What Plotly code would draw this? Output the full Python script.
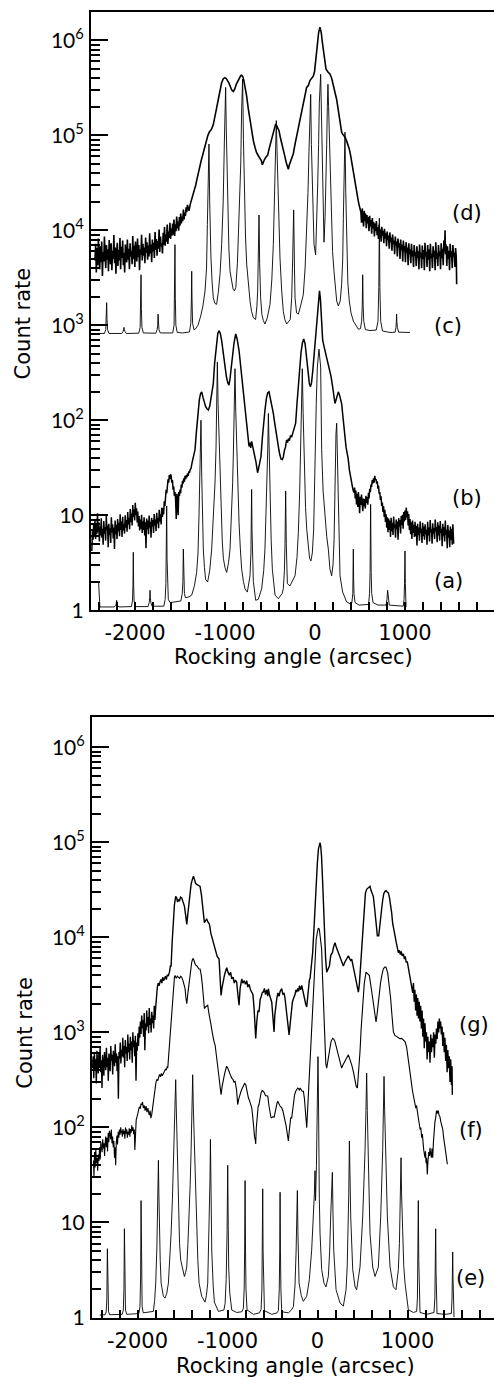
import plotly.graph_objects as go

# ---------------- DATA (rocking angle in arcsec, count rate) ----------------
# Top panel, curve (d): measured
d_pts = [(-2445,4800),(-2437,7200),(-2430,3600),(-2422,6500),(-2415,4300),(-2407,8200),(-2400,5000),(-2392,3900),
(-2385,6800),(-2377,4600),(-2370,7600),(-2362,3300),(-2355,5900),(-2347,4700),(-2340,8600),(-2332,5200),(-2325,4000),
(-2317,7000),(-2310,4900),(-2302,6300),(-2295,3700),(-2287,7900),(-2280,5300),(-2272,4400),(-2265,7300),(-2257,3800),
(-2250,6100),(-2242,5000),(-2235,8900),(-2227,4500),(-2220,6600),(-2212,3500),(-2205,5700),(-2197,7400),(-2190,4200),
(-2182,6200),(-2175,4800),(-2167,8300),(-2160,3900),(-2152,6700),(-2145,5100),(-2137,7800),(-2130,4300),(-2122,5800),
(-2115,3600),(-2107,7100),(-2100,5400),(-2092,4600),(-2085,8000),(-2077,4900),(-2070,6400),(-2062,3900),(-2055,7300),
(-2047,5300),(-2040,6100),(-2032,4400),(-2025,8700),(-2017,5000),(-2010,6900),(-2002,4100),(-1995,7600),(-1987,5600),
(-1980,4700),(-1972,8200),(-1965,5200),(-1957,7000),(-1950,3800),(-1942,6300),(-1935,5500),(-1927,9000),(-1920,4800),
(-1912,7200),(-1905,5400),(-1897,6600),(-1890,4500),(-1882,8400),(-1875,5800),(-1867,7500),(-1860,4900),(-1852,6900),
(-1845,5300),(-1837,9300),(-1830,5700),(-1822,7100),(-1815,4600),(-1807,8000),(-1800,6000),(-1792,7400),(-1785,5100),
(-1777,9600),(-1770,6200),(-1762,8100),(-1755,5400),(-1747,7700),(-1740,6400),(-1732,10200),(-1725,5900),(-1717,8600),
(-1710,6800),(-1702,7300),(-1695,5700),(-1687,9400),(-1680,7000),(-1672,10800),(-1665,6900),(-1657,9000),(-1650,7600),
(-1642,11500),(-1635,7200),(-1627,9700),(-1620,8300),(-1612,12000),(-1605,8100),(-1597,10500),(-1590,8800),(-1582,11800),
(-1575,9000),(-1567,13000),(-1560,8700),(-1552,11600),(-1545,9800),(-1537,14000),(-1530,10500),(-1522,12400),(-1515,9900),
(-1507,13800),(-1500,11200),(-1492,15000),(-1485,11800),(-1477,13900),(-1470,12500),(-1462,16500),(-1455,13000),
(-1447,15400),(-1440,14200),(-1432,17500),(-1425,15500),(-1417,18500),(-1410,17000),
(-1400,16000),(-1385,19000),(-1370,21000),(-1355,24000),(-1340,26000),(-1325,30000),(-1310,35000),(-1296,41000),
(-1280,48000),(-1265,54000),(-1250,61000),(-1235,70000),(-1222,78000),(-1205,91000),(-1190,100000),(-1175,108000),
(-1160,113000),(-1148,117000),(-1130,130000),(-1111,155000),(-1095,190000),(-1074,240000),(-1055,300000),(-1037,360000),
(-1018,395000),(-1000,405000),(-985,395000),(-970,375000),(-956,355000),(-940,325000),(-925,300000),(-907,290000),
(-890,310000),(-875,345000),(-859,370000),(-840,400000),(-825,425000),(-815,430000),(-800,410000),(-790,375000),
(-778,330000),(-760,260000),(-741,190000),(-722,140000),(-704,108000),(-685,88000),(-667,75000),(-650,66000),
(-630,61000),(-612,57000),(-595,54000),(-585,49000),(-574,53000),(-560,56000),(-545,59000),(-526,62000),(-510,72000),
(-495,82000),(-481,92000),(-465,108000),(-450,122000),(-437,132000),(-425,126000),(-412,120000),(-400,112000),
(-385,95000),(-370,84000),(-352,72000),(-335,60000),(-318,51000),(-305,47000),(-296,44000),(-285,49000),(-270,54000),
(-255,58000),(-241,64000),(-225,78000),(-205,98000),(-185,117000),(-165,150000),(-148,180000),(-130,220000),
(-110,270000),(-93,320000),(-74,335000),(-55,380000),(-37,400000),(-19,420000),(-5,470000),(10,650000),(25,950000),
(40,1200000),(55,1380000),(70,1200000),(82,950000),(92,800000),(105,600000),(122,500000),(140,470000),(155,450000),
(167,440000),(185,400000),(205,340000),(222,290000),(240,240000),(255,195000),(270,160000),(285,125000),(296,108000),
(310,102000),(320,100000),(333,96000),(350,88000),(365,80000),(381,72000),(395,62000),(410,52000),(426,41000),
(440,34000),(450,30000),(463,25500),(475,22000),(487,19000),(500,17000),
(510,15500),(517,12000),(525,17000),(532,13500),(540,11000),(547,16000),(555,12500),(562,15000),(570,10500),(577,14500),
(585,11800),(592,13800),(600,9800),(607,14200),(615,11000),(622,12800),(630,9200),(637,13500),(645,10500),(652,12200),
(660,8600),(667,11800),(675,9800),(682,12500),(690,8900),(697,10800),(705,8100),(712,11500),(720,9400),(727,10200),
(735,7600),(742,10900),(750,8800),(757,9900),(765,7300),(772,10400),(780,8200),(787,9300),(795,6800),(802,9700),
(810,7900),(817,8800),(825,6400),(832,9500),(840,7500),(847,8400),(855,6100),(862,9000),(870,7200),(877,7800),
(885,5600),(892,8600),(900,6900),(907,7600),(915,5300),(922,8200),(930,6600),(937,7300),(945,5000),(952,8000),
(960,6200),(967,7100),(975,4700),(982,7800),(990,6000),(997,6800),(1005,4600),(1012,7500),(1020,5800),(1027,6600),
(1035,4300),(1042,7300),(1050,5600),(1057,6300),(1065,4500),(1072,7200),(1080,5300),(1087,6100),(1095,4100),(1102,7000),
(1110,5400),(1117,5900),(1125,4200),(1132,6800),(1140,5100),(1147,6000),(1155,3900),(1162,7100),(1170,5200),(1177,5800),
(1185,4000),(1192,6900),(1200,5000),(1207,6200),(1215,3800),(1222,7400),(1230,5300),(1237,5900),(1245,4100),(1252,7000),
(1260,4900),(1267,6300),(1275,3700),(1282,7200),(1290,5100),(1297,5700),(1305,4000),(1312,6800),(1320,5200),(1327,6100),
(1335,3800),(1342,7500),(1350,5000),(1357,5800),(1365,4200),(1372,7000),(1380,5300),(1387,6000),(1395,3900),(1402,7300),
(1410,5100),(1417,6400),(1425,4300),(1432,7800),(1440,6000),(1445,10000),(1450,5600),(1457,7100),(1465,4200),(1472,6800),
(1480,5000),(1487,6100),(1495,3800),(1502,7200),(1510,5200),(1517,6000),(1525,4000),(1532,7000),(1540,5300),(1547,5800),
(1555,4100),(1562,6500),(1570,5200),(1574,2700)]

# Top panel, curve (c): simulation
c_pts = [(-2420,820),(-2340,820),(-2325,900),(-2319,1150),(-2315,1730),(-2311,1150),(-2305,900),(-2290,820),
(-2147,820),(-2132,860),(-2126,900),(-2122,950),(-2118,900),(-2112,860),(-2097,820),
(-1958,825),(-1943,950),(-1937,1500),(-1933,3400),(-1929,1500),(-1923,950),(-1908,830),
(-1769,825),(-1754,900),(-1748,1000),(-1744,1310),(-1740,1000),(-1734,900),(-1719,830),
(-1581,830),(-1566,1000),(-1560,1900),(-1556,7060),(-1552,1900),(-1546,1000),(-1531,840),
(-1470,830),(-1395,850),(-1380,1050),(-1374,1800),(-1370,3700),(-1366,1800),(-1360,1050),(-1345,900),(-1330,910),
(-1300,1000),(-1270,1250),(-1245,1600),(-1222,2300),(-1205,4000),(-1196,11500),(-1188,30000),(-1178,81000),
(-1170,20000),(-1163,9000),(-1156,5100),(-1143,2800),(-1130,1950),(-1112,1700),(-1093,1660),
(-1075,2200),(-1055,3500),(-1037,7100),(-1020,20000),(-1007,85000),(-999,200000),(-993,320000),(-986,120000),
(-978,40000),(-970,17000),(-957,6500),(-944,3700),(-925,2700),(-910,2400),(-896,2300),
(-880,2500),(-862,4500),(-845,11500),(-825,50000),(-815,190000),(-804,390000),(-795,90000),(-785,25000),(-772,8500),
(-759,4400),(-740,2500),(-722,1800),(-705,1400),(-685,1200),
(-660,1150),(-645,1600),(-637,2300),(-630,5000),(-622,14500),(-615,4500),(-604,1950),(-590,1300),(-574,1120),(-556,1030),
(-530,1200),(-500,1660),(-480,3000),(-463,7100),(-448,22000),(-441,56000),(-430,143000),(-422,70000),(-415,38000),
(-402,12000),(-389,5100),(-370,2300),(-352,1400),(-335,1150),(-315,1030),
(-275,1150),(-259,1950),(-248,5000),(-237,16400),(-228,4000),(-222,1950),(-205,1350),(-185,1310),(-160,1600),
(-130,2100),(-110,4000),(-93,9000),(-78,25000),(-67,67000),(-55,150000),(-48,270000),(-40,80000),(-30,30000),
(-20,12000),(-11,7100),(7,5500),(20,12000),(30,30000),(40,80000),(48,220000),(63,440000),(70,180000),(78,67000),
(88,20000),(100,7500),(112,14000),(122,30000),(130,80000),(137,200000),(144,345000),(151,200000),(159,100000),
(170,35000),(181,13400),(195,6000),(211,3700),(225,2400),(241,1800),(259,1600),(280,1800),(296,2700),(308,5000),
(315,13400),(323,40000),(333,108000),(342,25000),(352,6000),(365,2800),(381,1800),(400,1350),(426,1110),(455,980),
(481,910),(505,920),(518,1100),(525,1600),(530,3400),(535,1600),(542,1100),(560,900),(611,880),(680,890),(700,1100),
(709,2500),(715,13400),(721,2500),(730,1100),(750,870),(833,840),(890,845),(900,950),(904,1100),(907,1310),(910,1100),
(915,950),(930,845),(1056,840)]

# Top panel, curve (b): measured
b_pts = [(-2480,4.2),(-2473,6.8),(-2466,5.5),(-2459,8.2),(-2452,6.0),(-2445,9.0),(-2438,5.6),(-2431,7.9),(-2424,6.3),
(-2417,10.5),(-2410,6.6),(-2403,8.4),(-2396,5.3),(-2389,7.6),(-2382,6.1),(-2375,9.3),(-2368,5.8),(-2361,7.2),(-2354,4.9),
(-2347,8.7),(-2340,6.4),(-2333,7.5),(-2326,5.4),(-2319,9.8),(-2312,6.9),(-2305,7.8),(-2298,4.6),(-2291,8.1),(-2284,6.2),
(-2277,7.3),(-2270,5.1),(-2263,9.5),(-2256,6.6),(-2249,8.0),(-2242,5.7),(-2235,7.4),(-2228,4.4),(-2221,8.8),(-2214,6.3),
(-2207,7.9),(-2200,5.6),(-2193,9.1),(-2186,6.8),(-2179,8.3),(-2172,6.0),(-2165,10.2),(-2158,7.0),(-2151,8.6),(-2144,5.9),
(-2137,9.6),(-2130,6.9),(-2123,8.0),(-2116,6.4),(-2109,10.0),(-2102,7.4),(-2095,8.9),(-2088,6.7),(-2081,10.8),(-2074,8.0),
(-2067,9.4),(-2060,7.1),(-2053,11.6),(-2046,8.5),(-2039,10.4),(-2032,7.8),(-2025,12.8),(-2018,9.6),(-2011,11.5),(-2004,8.8),
(-1997,13.5),(-1990,10.0),(-1983,11.8),(-1976,8.4),(-1969,10.9),(-1962,7.6),(-1955,9.8),(-1948,6.9),(-1941,9.0),(-1934,7.2),
(-1927,10.1),(-1920,6.5),(-1913,8.6),(-1906,7.0),(-1899,9.5),(-1892,6.1),(-1885,8.4),(-1878,4.5),(-1871,9.2),(-1864,7.1),
(-1857,8.8),(-1850,6.3),(-1843,9.9),(-1836,7.4),(-1829,8.5),(-1822,5.8),(-1815,9.4),(-1808,7.6),(-1801,8.9),(-1794,6.5),
(-1787,10.3),(-1780,7.8),(-1773,9.0),(-1766,6.8),(-1759,10.6),(-1752,8.2),(-1745,9.3),(-1738,7.3),(-1731,11.4),(-1724,8.6),
(-1717,10.2),(-1710,8.0),(-1703,12.0),(-1696,9.6),(-1689,11.8),(-1682,10.2),(-1675,14.0),(-1668,12.5),
(-1661,16.0),(-1654,18.5),(-1647,17.0),(-1640,21.0),(-1633,23.8),(-1626,22.0),(-1619,26.5),(-1612,24.0),(-1605,27.0),
(-1598,25.7),(-1591,22.0),(-1584,23.5),(-1577,18.6),(-1570,20.0),(-1563,16.0),(-1556,17.5),(-1549,14.7),(-1542,9.1),
(-1535,16.8),(-1528,14.5),(-1521,10.0),(-1514,17.5),(-1507,16.0),(-1500,18.6),(-1493,17.0),(-1486,21.0),(-1479,19.5),
(-1472,23.0),(-1465,21.5),(-1458,24.5),(-1451,22.5),(-1444,26.0),(-1437,24.0),(-1430,26.5),(-1423,25.0),(-1416,27.5),
(-1409,26.0),(-1402,29.0),(-1395,28.0),(-1388,30.0),(-1378,31.0),(-1365,36.0),(-1350,42.0),(-1333,49.0),(-1318,75.0),
(-1305,105),(-1296,128),(-1285,165),(-1272,190),(-1259,199),(-1245,175),(-1230,150),(-1215,139),(-1200,132),(-1185,128),
(-1170,140),(-1155,175),(-1140,215),(-1130,243),(-1115,400),(-1100,580),(-1093,690),(-1080,820),(-1067,877),(-1052,820),
(-1037,690),(-1020,500),(-1000,363),(-985,290),(-970,250),(-956,234),(-945,270),(-930,370),(-918,462),(-900,650),
(-881,809),(-865,720),(-844,542),(-825,360),(-807,243),(-790,165),(-770,109),(-750,75),(-733,53),(-722,58),(-715,51),
(-704,60),(-695,55),(-680,48),(-667,41.7),(-655,36),(-645,31),(-638,28),(-630,30),(-620,33),(-612,38),(-600,41.7),
(-585,65),(-570,105),(-556,128),(-540,170),(-525,195),(-511,199),(-495,170),(-480,140),(-463,118),(-445,90),(-430,70),
(-415,57),(-400,48),(-390,43),(-378,39),(-363,38.5),(-352,41),(-340,48),(-328,52),(-315,62),(-305,58),(-295,64),
(-285,61),(-273,68),(-259,67),(-245,74),(-232,80),(-215,93),(-200,150),(-185,243),(-170,380),(-155,520),(-140,650),
(-125,718),(-110,640),(-95,480),(-80,330),(-62,240),(-50,226),(-38,250),(-25,330),(-10,480),(0,600),(12,900),(22,1200),
(30,1500),(40,2000),(50,2300),(60,1900),(68,1300),(74,900),(85,700),(100,600),(111,542),(125,470),(140,420),(159,363),
(178,290),(196,224),(210,175),(222,150),(235,165),(248,190),(259,199),(272,185),(284,165),(296,150),(310,110),(322,80),
(333,62),(345,52),(357,45),(370,38.5),(382,30),(395,25),(407,21.9),(420,19),(432,17.3),
(440,19.5),(447,15.0),(454,18.2),(461,13.0),(468,16.8),(475,12.2),(482,17.5),(489,14.0),(496,10.5),(503,15.6),(510,12.8),
(517,16.5),(524,13.2),(531,11.0),(538,15.0),(545,12.4),(552,14.8),(559,11.8),(566,16.0),(573,13.5),(580,15.5),(587,12.9),
(594,17.2),(601,15.0),(608,19.0),(615,17.5),(622,21.0),(629,19.8),(636,23.5),(643,21.6),(650,24.5),(657,22.0),(664,26.0),
(671,23.5),(678,24.0),(685,21.5),(692,22.8),(699,19.0),(706,20.5),(713,16.8),(720,17.5),(727,14.5),(734,15.8),(741,12.5),
(748,13.6),(755,10.8),(762,12.4),(769,9.6),(776,11.4),(783,8.5),(790,10.2),(797,7.4),(804,9.5),(811,6.6),(818,9.2),
(825,7.0),(832,8.8),(839,5.9),(846,9.4),(853,6.8),(860,8.3),(867,6.2),(874,9.7),(881,7.3),(888,8.0),(895,5.8),(902,9.0),
(909,7.1),(916,8.6),(923,5.5),(930,9.3),(937,7.6),(944,8.9),(951,6.4),(958,9.8),(965,7.9),(972,10.1),(979,7.2),(986,10.8),
(993,8.6),(1000,11.2),(1007,8.9),(1014,12.0),(1021,9.5),(1028,11.0),(1035,7.8),(1042,10.3),(1049,7.0),(1056,9.1),
(1063,6.3),(1070,8.4),(1077,5.6),(1084,8.8),(1091,6.5),(1098,7.9),(1105,5.9),(1112,8.5),(1119,6.0),(1126,7.7),(1133,4.8),
(1140,8.1),(1147,6.2),(1154,7.4),(1161,5.4),(1168,8.6),(1175,6.5),(1182,7.2),(1189,5.1),(1196,8.3),(1203,6.0),(1210,7.6),
(1217,5.5),(1224,8.0),(1231,6.3),(1238,7.0),(1245,4.9),(1252,8.5),(1259,6.1),(1266,7.4),(1273,5.3),(1280,8.9),(1287,6.6),
(1294,7.1),(1301,5.0),(1308,8.2),(1315,6.4),(1322,7.3),(1329,5.6),(1336,9.0),(1343,6.8),(1350,7.5),(1357,5.2),(1364,8.4),
(1371,6.1),(1378,7.8),(1385,5.4),(1392,8.7),(1399,6.5),(1406,7.2),(1413,4.7),(1420,8.1),(1427,6.0),(1434,7.5),(1441,5.3),
(1448,8.8),(1455,6.2),(1462,7.0),(1469,4.5),(1476,7.9),(1483,5.8),(1490,6.9),(1497,4.6),(1504,7.6),(1511,5.5),(1518,7.2),
(1525,4.9),(1532,8.0),(1539,5.6),(1541,5.0)]

# Top panel, curve (a): simulation
a_pts = [(-2405,2.0),(-2400,1.3),(-2390,1.08),(-2230,1.08),(-2215,1.12),(-2208,1.18),(-2204,1.27),(-2200,1.18),(-2193,1.12),(-2180,1.08),
(-2040,1.09),(-2028,1.25),(-2023,1.8),(-2019,4.07),(-2015,1.8),(-2010,1.25),(-1998,1.09),
(-1855,1.09),(-1842,1.2),(-1837,1.35),(-1833,1.62),(-1829,1.35),(-1824,1.2),(-1811,1.1),
(-1680,1.1),(-1665,1.3),(-1657,1.9),(-1652,3.5),(-1648,12.5),(-1644,3.5),(-1639,1.9),(-1630,1.3),(-1610,1.2),(-1560,1.22),
(-1490,1.25),(-1475,1.5),(-1468,2.0),(-1463,4.4),(-1458,2.0),(-1451,1.5),(-1440,1.35),(-1400,1.38),
(-1370,1.44),(-1340,1.8),(-1315,2.5),(-1300,4.0),(-1289,9.8),(-1278,30),(-1267,100),(-1258,25),(-1250,9),(-1241,4.4),
(-1228,2.8),(-1215,2.1),(-1193,1.98),
(-1170,2.6),(-1148,4.4),(-1125,10),(-1111,21.9),(-1100,50),(-1093,109),(-1085,409),(-1077,150),(-1067,72),(-1055,22),
(-1044,9.8),(-1030,5.2),(-1018,3.5),(-1000,2.8),(-981,2.5),
(-960,3.2),(-944,4.4),(-930,9),(-915,21.9),(-907,45),(-900,110),(-889,349),(-880,120),(-870,49),(-857,18),(-844,8.4),
(-830,4.5),(-815,2.7),(-795,2.0),(-778,1.68),(-752,1.55),
(-735,1.9),(-722,2.3),(-712,4.0),(-708,7.5),(-704,18.7),(-700,7.0),(-695,3.5),(-685,2.0),(-659,1.27),
(-630,1.3),(-593,1.68),(-570,2.6),(-556,4.4),(-545,9),(-533,21.9),(-525,50),(-518,118),(-510,40),(-500,14.7),(-487,5.5),
(-474,2.7),(-460,1.8),(-444,1.44),(-407,1.32),
(-365,1.5),(-352,1.68),(-340,2.6),(-333,5.0),(-326,18),(-319,5.0),(-312,2.6),(-307,1.9),(-278,1.8),
(-250,2.0),(-222,2.3),(-200,3.6),(-185,6.6),(-170,18),(-159,49),(-150,120),(-141,349),(-132,120),(-118,25.7),(-105,12),
(-92,7.1),(-75,4.5),(-60,3.5),(-45,3.3),
(-30,4.0),(-15,7),(0,49),(14,150),(26,363),(44,560),(63,363),(74,49),(90,18),(111,9.8),(130,6.0),(148,4.4),(166,2.7),(185,2.3),
(200,3.0),(212,5.5),(222,21.9),(233,72),(241,93),(250,30),(259,9.8),(268,4.5),(278,2.3),(307,1.55),(352,1.22),(389,1.17),
(410,1.2),(420,1.5),(423,2.2),(426,4.4),(429,2.2),(433,1.5),(445,1.2),(490,1.13),
(595,1.15),(606,1.5),(612,2.5),(618,13),(624,2.5),(630,1.5),(645,1.2),(700,1.13),
(790,1.13),(800,1.3),(807,1.62),(814,1.3),(825,1.13),(980,1.1),
(990,1.3),(995,1.9),(1000,4.2),(1004,1.9),(1008,1.2),(1012,1.08)]

# Bottom panel, curve (g): measured
g_pts = [(-2500,420),(-2493,560),(-2486,330),(-2479,610),(-2472,400),(-2465,520),(-2458,290),(-2451,640),(-2444,450),
(-2437,370),(-2430,600),(-2423,420),(-2416,700),(-2409,380),(-2402,510),(-2395,260),(-2388,580),(-2381,460),(-2374,350),
(-2367,620),(-2360,480),(-2353,400),(-2346,690),(-2339,430),(-2332,540),(-2325,310),(-2318,600),(-2311,470),(-2304,390),
(-2297,720),(-2290,500),(-2283,580),(-2276,360),(-2269,640),(-2262,520),(-2255,440),(-2248,750),(-2241,480),(-2234,600),
(-2227,390),(-2220,560),(-2213,200),(-2206,620),(-2199,530),(-2192,780),(-2185,470),(-2178,650),(-2171,560),(-2164,880),
(-2157,540),(-2150,720),(-2143,430),(-2136,830),(-2129,600),(-2122,700),(-2115,500),(-2108,950),(-2101,620),(-2094,760),
(-2087,520),(-2080,900),(-2073,650),(-2066,800),(-2059,480),(-2052,1000),(-2045,700),(-2038,820),(-2031,560),(-2024,920),
(-2017,310),(-2010,780),(-2003,640),(-1996,980),(-1989,720),(-1982,1150),(-1975,880),(-1968,1300),(-1961,960),(-1954,1500),
(-1947,1100),(-1940,1350),(-1933,900),(-1926,1600),(-1919,650),(-1912,1250),(-1905,1050),(-1898,1700),(-1891,1150),
(-1884,1450),(-1877,980),(-1870,1800),(-1863,1200),(-1856,1400),(-1849,1000),(-1842,1650),(-1835,1250),(-1828,1500),
(-1821,1100),(-1814,1900),(-1807,1350),(-1800,1750),(-1790,2600),(-1780,3000),(-1770,3300),(-1760,3100),(-1750,3400),
(-1740,3600),(-1730,3300),(-1720,3800),(-1710,3500),(-1700,3700),(-1690,3900),(-1680,3600),(-1670,4000),(-1657,3960),
(-1645,4300),(-1635,5000),(-1627,5000),(-1615,9000),(-1601,15500),(-1590,22000),(-1576,27000),(-1565,26000),(-1555,23500),
(-1546,25000),(-1535,24000),(-1522,26500),(-1509,26000),(-1495,24000),(-1479,21300),(-1465,17000),(-1453,13700),
(-1440,18000),(-1427,23000),(-1415,30000),(-1405,36000),(-1390,41000),(-1379,44000),(-1365,40000),(-1355,37000),
(-1342,36000),(-1325,35000),(-1305,34400),(-1290,28000),(-1279,23000),(-1268,17500),(-1257,14300),(-1245,15000),
(-1231,15500),(-1218,14500),(-1201,13700),(-1185,11000),(-1168,9500),(-1150,8000),(-1131,6900),(-1115,6300),(-1094,5900),
(-1083,4200),(-1072,2450),(-1060,3000),(-1048,3600),(-1035,3960),(-1022,4400),(-1009,4800),(-995,4300),(-980,4000),
(-966,4300),(-953,3650),(-938,3800),(-925,3300),(-912,3550),(-898,3370),(-885,2500),(-872,1930),(-860,2900),(-842,3650),
(-830,3300),(-815,3500),(-800,3200),(-787,3500),(-775,3000),(-760,3200),(-745,2800),(-731,2650),(-718,2500),(-705,1800),
(-695,1200),(-687,865),(-675,1300),(-662,1700),(-650,1640),(-638,2200),(-625,2400),(-612,2650),(-601,2650),(-590,2900),
(-578,2500),(-565,2800),(-553,2400),(-546,2880),(-535,2500),(-522,2200),(-509,2090),(-497,1500),(-490,1200),(-483,1010),
(-475,1500),(-465,2000),(-453,2260),(-440,2600),(-428,2400),(-415,2700),(-405,2880),(-398,2880),(-385,2500),(-372,2600),
(-361,2260),(-350,1800),(-338,1400),(-325,1050),(-316,940),(-305,1200),(-292,1700),(-279,2090),(-265,2300),(-250,2500),
(-240,2800),(-231,2650),(-220,2900),(-210,2700),(-200,3100),(-188,2800),(-175,3110),(-160,2600),(-145,2300),(-132,2000),
(-120,1850),(-110,2400),(-100,3000),(-90,3600),(-83,3660),(-70,5000),(-54,6900),(-40,12000),(-28,23000),(-15,40000),
(-2,60000),(10,85000),(20,98000),(28,99000),(36,90000),(45,70000),(56,40000),(66,20000),(78,10400),(90,6000),(102,4300),
(115,4600),(132,5000),(148,6500),(165,6900),(180,8000),(194,8800),(210,7800),(231,6900),(250,6000),(268,5600),(287,5000),
(300,5400),(315,5800),(330,6100),(343,6400),(355,6000),(368,5700),(380,5900),(395,5000),(405,4600),(417,4300),(430,3600),
(442,3000),(454,2650),(465,3200),(480,5500),(495,10000),(509,15500),(520,22000),(532,29000),(546,32000),(560,33000),
(572,34400),(583,34400),(595,31000),(608,28000),(620,27000),(635,20000),(650,13200),(665,10400),(680,10400),(690,13000),
(700,18000),(713,20000),(725,25000),(737,29000),(750,30500),(762,31000),(775,30000),(787,29300),(800,26000),(812,22000),
(824,18100),(835,14000),(848,11500),(861,10400),(873,9000),(885,7900),(898,6900),(910,7300),(920,6600),(930,7100),
(940,6400),(954,6700),(965,5900),(975,6300),(985,5500),(998,5500),(1010,4800),(1020,4200),(1030,3800),(1040,3400),
(1050,3100),(1058,2600),(1066,3300),(1074,2100),(1082,2800),(1090,1700),(1098,2500),(1106,1500),(1114,2300),(1122,1400),
(1130,2100),(1138,1300),(1146,1900),(1154,1100),(1162,1700),(1170,900),(1178,1400),(1186,680),(1194,1250),(1202,800),
(1210,1000),(1218,520),(1226,900),(1234,620),(1242,800),(1250,480),(1258,950),(1266,620),(1274,860),(1282,700),
(1290,1000),(1298,540),(1306,950),(1314,760),(1322,1100),(1330,850),(1338,1300),(1346,1000),(1354,1400),(1361,1100),
(1368,1300),(1376,950),(1384,1150),(1392,720),(1400,1000),(1408,620),(1416,880),(1424,500),(1432,740),(1440,380),
(1448,650),(1456,420),(1464,560),(1472,300),(1480,520),(1488,280),(1495,440),(1498,220)]

# Bottom panel, curve (f): measured
f_pts = [(-2490,45),(-2484,30),(-2478,55),(-2471,38),(-2464,60),(-2457,42),(-2450,48),(-2443,35),(-2436,52),(-2429,44),
(-2422,62),(-2415,46),(-2408,70),(-2401,58),(-2394,55),(-2387,75),(-2380,60),(-2373,68),(-2366,50),(-2361,66),(-2354,80),
(-2347,62),(-2340,78),(-2333,56),(-2326,88),(-2319,70),(-2312,92),(-2305,85),(-2298,75),(-2291,95),(-2284,68),(-2277,80),
(-2270,62),(-2263,72),(-2256,48),(-2250,62),(-2243,40),(-2236,70),(-2229,82),(-2222,66),(-2215,90),(-2208,78),(-2201,95),
(-2194,84),(-2187,100),(-2180,88),(-2176,92),(-2169,80),(-2162,96),(-2155,85),(-2148,92),(-2141,76),(-2134,100),(-2127,86),
(-2120,95),(-2113,78),(-2106,90),(-2099,84),(-2092,98),(-2085,80),(-2078,96),(-2071,88),(-2064,105),(-2057,92),(-2050,100),
(-2043,85),(-2036,95),(-2030,58),(-2024,100),(-2015,120),(-2005,130),(-1998,137),(-1988,150),(-1980,165),(-1970,158),
(-1962,175),(-1953,174),(-1945,185),(-1935,160),(-1925,170),(-1916,150),(-1905,168),(-1895,145),(-1885,160),(-1879,148),
(-1870,135),(-1860,150),(-1852,125),(-1842,137),(-1830,170),(-1818,220),(-1805,240),(-1795,300),(-1785,320),(-1775,310),
(-1768,330),(-1755,360),(-1745,340),(-1735,370),(-1725,350),(-1713,372),(-1700,390),(-1690,410),(-1680,400),(-1670,440),
(-1664,421),(-1652,600),(-1638,940),(-1625,1700),(-1613,2090),(-1600,3000),(-1590,3800),(-1583,3960),(-1570,3700),
(-1558,3900),(-1546,3800),(-1532,3700),(-1520,3900),(-1509,3800),(-1495,3500),(-1483,3200),(-1472,2880),(-1462,2300),
(-1453,2000),(-1440,2600),(-1427,3370),(-1415,4500),(-1405,5300),(-1398,5460),(-1388,5900),(-1379,5920),(-1365,5400),
(-1355,5100),(-1342,5040),(-1330,4800),(-1318,4650),(-1305,4640),(-1292,4000),(-1279,3110),(-1268,2300),(-1257,1780),
(-1245,1850),(-1234,1900),(-1220,1930),(-1210,1650),(-1200,1400),(-1183,1190),(-1170,1000),(-1160,860),(-1150,800),
(-1138,736),(-1125,600),(-1115,500),(-1109,455),(-1098,360),(-1085,280),(-1072,221),(-1060,270),(-1048,330),(-1035,358),
(-1022,400),(-1010,440),(-998,421),(-985,380),(-970,360),(-953,330),(-940,320),(-928,300),(-916,305),(-900,250),(-887,174),
(-875,200),(-862,230),(-850,240),(-835,260),(-820,275),(-810,290),(-798,282),(-785,240),(-775,215),(-768,205),(-755,190),
(-745,175),(-731,161),(-720,130),(-710,95),(-700,80),(-690,72),(-687,67),(-680,100),(-670,150),(-660,165),(-650,174),
(-640,200),(-628,230),(-615,245),(-601,240),(-590,230),(-578,215),(-565,215),(-553,213),(-540,170),(-528,140),(-518,128),
(-509,126),(-495,130),(-482,128),(-470,150),(-460,170),(-450,180),(-442,189),(-430,175),(-420,170),(-410,165),(-398,161),
(-385,150),(-372,135),(-361,117),(-350,105),(-340,90),(-332,80),(-324,72),(-315,90),(-305,110),(-298,126),(-287,126),
(-275,160),(-265,190),(-255,220),(-242,240),(-230,250),(-220,260),(-210,255),(-200,245),(-194,260),(-180,250),(-170,240),
(-157,240),(-145,200),(-135,150),(-128,110),(-120,99),(-112,140),(-104,200),(-94,282),(-85,500),(-75,900),(-64,1400),
(-55,2200),(-45,3500),(-35,5500),(-28,6900),(-15,9500),(-2,11200),(8,12500),(20,12200),(30,10000),(40,8000),(46,7500),
(55,4000),(65,2090),(75,900),(83,535),(92,470),(102,421),(115,500),(132,630),(150,800),(168,865),(180,850),(194,800),
(210,700),(231,580),(250,470),(268,421),(285,460),(306,493),(325,540),(343,580),(360,520),(380,455),(400,380),(417,305),
(430,270),(443,260),(455,350),(465,500),(472,628),(485,1100),(502,2090),(520,3300),(539,4300),(556,4100),(576,3960),
(595,3000),(613,2260),(630,1700),(641,1400),(650,1290),(660,1500),(672,2000),(687,2650),(700,3300),(715,4000),(731,4650),
(746,4850),(761,4840),(780,4200),(798,3110),(812,2300),(825,1600),(835,1200),(843,1010),(860,930),(880,900),(900,880),
(915,860),(935,865),(955,830),(972,800),(990,700),(1009,535),(1025,400),(1038,340),(1046,282),(1056,240),(1064,220),
(1072,200),(1083,189),(1092,160),(1100,170),(1110,135),(1120,126),(1130,110),(1140,95),(1148,100),(1157,78),(1165,85),
(1172,65),(1180,58),(1188,52),(1194,48),(1200,56),(1206,42),(1212,48),(1220,32),(1228,45),(1236,55),(1243,50),(1250,61),
(1258,52),(1265,48),(1272,60),(1280,48),(1288,70),(1296,95),(1305,115),(1313,126),(1322,150),(1330,140),(1338,150),
(1343,148),(1350,135),(1360,130),(1370,115),(1380,108),(1392,95),(1400,80),(1408,70),(1417,62),(1425,55),(1433,46),(1443,41)]

# Bottom panel, curve (e): simulation
e_pts = [(-2420,1.06),(-2360,1.07),(-2348,1.15),(-2341,1.6),(-2335,5.3),(-2329,1.6),(-2322,1.15),(-2310,1.07),
(-2170,1.08),(-2158,1.2),(-2151,2.0),(-2146,8.6),(-2141,2.0),(-2134,1.2),(-2120,1.08),
(-1985,1.1),(-1973,1.3),(-1966,2.6),(-1961,17),(-1956,2.6),(-1949,1.3),(-1937,1.12),
(-1824,1.16),(-1810,1.5),(-1798,2.3),(-1785,5.5),(-1779,11.4),(-1773,25),(-1768,45),(-1763,20),(-1757,8.2),(-1748,4),
(-1738,2.3),(-1713,1.67),(-1694,1.6),
(-1675,1.8),(-1657,2.3),(-1640,4),(-1627,7.7),(-1612,18),(-1601,38),(-1590,90),(-1583,174),(-1576,318),(-1570,170),
(-1564,85),(-1555,30),(-1546,11.4),(-1533,6),(-1520,4.0),(-1490,2.8),(-1479,2.7),
(-1465,3.0),(-1453,3.4),(-1440,6),(-1427,11.4),(-1415,25),(-1405,57),(-1396,140),(-1387,358),(-1380,160),(-1368,68),
(-1355,20),(-1342,7.7),(-1330,4),(-1316,2.3),(-1287,1.67),(-1250,1.45),
(-1235,1.7),(-1220,2.3),(-1210,5),(-1201,11.4),(-1195,28),(-1190,75),(-1185,20),(-1175,5.0),(-1160,2.2),(-1146,1.45),(-1101,1.16),
(-1040,1.2),(-1027,1.4),(-1015,2.5),(-1005,8.2),(-998,40),(-992,9),(-987,3.4),(-975,1.8),(-953,1.2),(-898,1.13),
(-840,1.15),(-824,1.25),(-815,2),(-810,5),(-805,27.6),(-800,5),(-795,2),(-783,1.2),(-712,1.08),
(-645,1.12),(-627,1.22),(-618,2),(-613,5),(-609,22.6),(-605,5),(-600,2),(-590,1.18),(-509,1.08),
(-450,1.12),(-435,1.18),(-425,2),(-420,5),(-416,20.8),(-412,5),(-407,2),(-398,1.15),(-324,1.12),
(-290,1.2),(-268,1.3),(-250,2.2),(-238,5.0),(-230,10),(-224,21.7),(-218,8),(-205,2.3),(-180,1.7),(-158,1.48),(-120,1.67),
(-91,2.5),(-65,5.1),(-46,11.4),(-35,20),(-28,35),(-22,17),(-12,40),(-6,126),(0,400),(5,556),(9,300),(13,57),(20,18),
(28,7.7),(46,3.2),(72,2.3),(94,2.1),
(120,2.7),(135,5),(146,11.4),(156,20),(165,33.7),(172,12),(180,5.1),(206,1.96),(250,1.42),(287,1.32),
(317,1.96),(330,3.5),(339,7.7),(347,20),(354,72),(361,25),(369,11.4),(391,3.2),(417,2.1),(435,1.96),
(472,3.4),(502,11.4),(515,22),(528,57),(538,150),(546,373),(553,150),(561,57),(583,7.7),(613,3.4),(639,2.7),
(676,3.4),(702,11.4),(724,57),(732,150),(739,344),(746,150),(754,85),(776,11.4),(806,3.4),(843,2.1),(872,1.96),
(898,3.2),(910,6),(917,11.4),(923,25),(928,48),(934,20),(943,7.7),(958,3.5),(972,2.3),(1009,1.21),(1065,1.13),
(1102,1.16),(1110,1.6),(1115,4),(1120,17),(1125,4),(1130,1.6),(1139,1.13),(1213,1.08),
(1294,1.13),(1304,1.6),(1309,3),(1313,8.6),(1317,3),(1322,1.6),(1328,1.1),(1417,1.08),
(1487,1.1),(1495,1.6),(1499,2.8),(1502,4.9),(1506,2.5),(1512,1.4),(1517,1.0)]

# Tick values / labels
x_tick_vals = [-2000, -1000, 0, 1000]
x_tick_text = ["-2000", "-1000", "0", "1000"]
x_minor_vals = [-2400, -2200, -1800, -1600, -1400, -1200, -800, -600, -400, -200,
                200, 400, 600, 800, 1200, 1400, 1600, 1800]
y_tick_vals = [1, 10, 100, 1000, 10000, 100000, 1000000]
y_tick_text = ["1", "10", "10<sup>2</sup>", "10<sup>3</sup>", "10<sup>4</sup>", "10<sup>5</sup>", "10<sup>6</sup>"]
y_minor_vals = [m * 10 ** k for k in range(6) for m in range(2, 10)]

top_labels = ["(d)", "(c)", "(b)", "(a)"]
bottom_labels = ["(g)", "(f)", "(e)"]
x_title = "Rocking angle (arcsec)"
y_title = "Count rate"

# ---------------- FIGURE ----------------
W, H = 494, 1393
FONT = "'DejaVu Sans', sans-serif"
YFONT = "Lato, 'DejaVu Sans', sans-serif"


def fx(p):
    return p / W


def fy(p):
    return 1 - p / H


def split(pts):
    return [p[0] for p in pts], [p[1] for p in pts]


fig = go.Figure()
for pts, w in [(c_pts, 0.9), (a_pts, 0.9), (d_pts, 1.6), (b_pts, 1.5)]:
    xs, ys = split(pts)
    fig.add_trace(go.Scatter(x=xs, y=ys, mode="lines", line=dict(color="black", width=w),
                             xaxis="x", yaxis="y", showlegend=False, hoverinfo="skip"))
for pts, w in [(e_pts, 0.9), (f_pts, 1.1), (g_pts, 1.4)]:
    xs, ys = split(pts)
    fig.add_trace(go.Scatter(x=xs, y=ys, mode="lines", line=dict(color="black", width=w),
                             xaxis="x2", yaxis="y2", showlegend=False, hoverinfo="skip"))

xcommon = dict(showline=True, linecolor="black", linewidth=2, mirror=True, ticks="inside", ticklen=8,
               tickwidth=1.5, tickcolor="black", tickmode="array", tickvals=x_tick_vals, ticktext=x_tick_text,
               tickfont=dict(family=FONT, size=21, color="black"), showgrid=False, zeroline=False,
               ticklabelstandoff=3,
               minor=dict(ticks="inside", ticklen=8, tickwidth=1.5, tickcolor="black",
                          tickmode="array", tickvals=x_minor_vals, showgrid=False))
ycommon = dict(type="log", showline=True, linecolor="black", linewidth=2, ticks="inside", ticklen=17,
               tickwidth=2, tickcolor="black", tickmode="array", tickvals=y_tick_vals, ticktext=y_tick_text,
               tickfont=dict(family=YFONT, size=21, color="black"), showgrid=False, zeroline=False,
               ticklabelstandoff=1,
               minor=dict(ticks="inside", ticklen=9, tickwidth=1.5, tickcolor="black",
                          tickmode="array", tickvals=y_minor_vals, showgrid=False))

fig.update_layout(
    width=W, height=H, margin=dict(l=0, r=0, t=0, b=0),
    paper_bgcolor="white", plot_bgcolor="white", showlegend=False,
    xaxis=dict(domain=[fx(91), 1], range=[-2489, 1989], anchor="y", **xcommon),
    yaxis=dict(domain=[fy(615), fy(12)], range=[0, 6.30], anchor="x", **ycommon),
    xaxis2=dict(domain=[fx(92), 1], range=[-2506, 1961], anchor="y2", **xcommon),
    yaxis2=dict(domain=[fy(1328), fy(723)], range=[0, 6.315], anchor="x2", **ycommon),
)

ann = []
lab_font = dict(family=FONT, size=21, color="black")
for txt, (px, py) in zip(top_labels, [(467, 215), (448, 329), (467, 502), (448, 586)]):
    ann.append(dict(text=txt, x=fx(px), y=fy(py), xref="paper", yref="paper", showarrow=False,
                    xanchor="center", yanchor="middle", font=lab_font))
for txt, (px, py) in zip(bottom_labels, [(474, 1033), (471, 1139), (470, 1288)]):
    ann.append(dict(text=txt, x=fx(px), y=fy(py), xref="paper", yref="paper", showarrow=False,
                    xanchor="center", yanchor="middle", font=lab_font))
for (px, py) in [(293, 662), (295, 1377)]:
    ann.append(dict(text=x_title, x=fx(px), y=fy(py), xref="paper", yref="paper", showarrow=False,
                    xanchor="center", yanchor="middle", font=dict(family=FONT, size=21, color="black")))
for (px, py) in [(23, 326), (25, 1041)]:
    ann.append(dict(text=y_title, x=fx(px), y=fy(py), xref="paper", yref="paper", showarrow=False,
                    textangle=-90, xanchor="center", yanchor="middle",
                    font=dict(family=FONT, size=21, color="black")))
fig.update_layout(annotations=ann)

fig.write_html("out.html", config={"displayModeBar": False},
               post_script="document.body.style.margin='0px';")
